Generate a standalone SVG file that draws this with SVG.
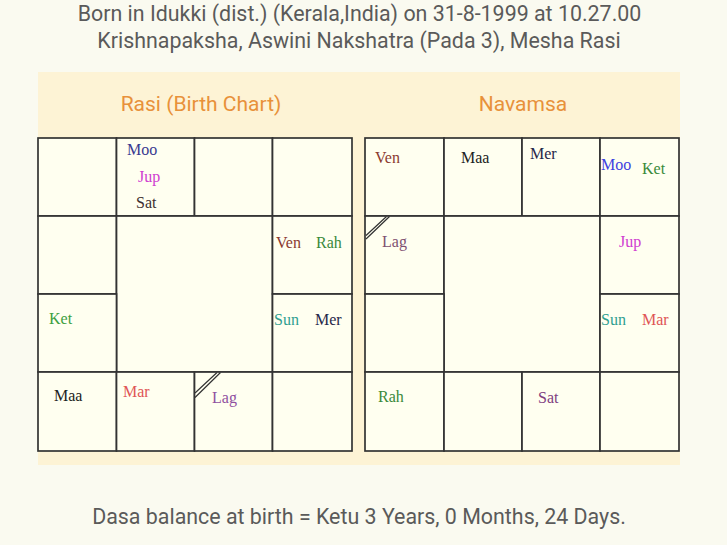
<svg xmlns="http://www.w3.org/2000/svg" width="727" height="545" viewBox="0 0 727 545">
<style>
.t{font-family:Roboto,"Liberation Sans",sans-serif;font-size:21.4px;fill:#5a5a5a;text-anchor:middle}
.h{font-family:Roboto,"Liberation Sans",sans-serif;font-size:21px;fill:#e8913a;text-anchor:middle}
.c{fill:#fffff0;stroke:#333;stroke-width:1.7}
.p{font-family:"Liberation Serif","DejaVu Serif",serif;font-size:16px}
.lg{stroke:#333;stroke-width:1.2;fill:none}
</style>
<rect width="727" height="545" fill="#fafaf0"/>
<text class="t" x="359.5" y="21">Born in Idukki (dist.) (Kerala,India) on 31-8-1999 at 10.27.00</text>
<text class="t" x="359" y="48">Krishnapaksha, Aswini Nakshatra (Pada 3), Mesha Rasi</text>
<rect id="panel" x="38" y="72" width="642" height="393" fill="#fdf3d5"/>
<text class="h" x="201" y="111">Rasi (Birth Chart)</text>
<text class="h" x="523" y="111">Navamsa</text>

<g id="rasi">
<rect class="c" x="38" y="138" width="78.5" height="78"/>
<rect class="c" x="116.5" y="138" width="78" height="78"/>
<rect class="c" x="194.5" y="138" width="78" height="78"/>
<rect class="c" x="272.5" y="138" width="79.5" height="78"/>
<rect class="c" x="38" y="216" width="78.5" height="78"/>
<rect class="c" x="116.5" y="216" width="156" height="156"/>
<rect class="c" x="272.5" y="216" width="79.5" height="78"/>
<rect class="c" x="38" y="294" width="78.5" height="78"/>
<rect class="c" x="272.5" y="294" width="79.5" height="78"/>
<rect class="c" x="38" y="372" width="78.5" height="79"/>
<rect class="c" x="116.5" y="372" width="78" height="79"/>
<rect class="c" x="194.5" y="372" width="78" height="79"/>
<rect class="c" x="272.5" y="372" width="79.5" height="79"/>
<path class="lg" d="M195 397.5 L220.5 372.5 M195 393 L217 372.5"/>
<g id="r-h2"><text class="p" x="127" y="155" fill="#3a3a90">Moo</text><text class="p" x="138" y="182" fill="#d040d0">Jup</text><text class="p" x="136" y="208" fill="#403030">Sat</text></g>
<g id="r-h4"><text class="p" x="276" y="248" fill="#8b3a30">Ven</text><text class="p" x="316" y="248" fill="#3a8a3a">Rah</text></g>
<g id="r-h12"><text class="p" x="49" y="324" fill="#40a040">Ket</text></g>
<g id="r-h5"><text class="p" x="274" y="325" fill="#30a090">Sun</text><text class="p" x="315" y="325" fill="#28284a">Mer</text></g>
<g id="r-h11"><text class="p" x="54" y="401" fill="#222">Maa</text></g>
<g id="r-h10"><text class="p" x="123" y="397" fill="#e05555">Mar</text></g>
<g id="r-h9"><text class="p" x="212" y="403" fill="#9050a0">Lag</text></g>
</g>

<g id="navamsa">
<rect class="c" x="365" y="138" width="79" height="78"/>
<rect class="c" x="444" y="138" width="78" height="78"/>
<rect class="c" x="522" y="138" width="78" height="78"/>
<rect class="c" x="600" y="138" width="79" height="78"/>
<rect class="c" x="365" y="216" width="79" height="78"/>
<rect class="c" x="444" y="216" width="156" height="156"/>
<rect class="c" x="600" y="216" width="79" height="78"/>
<rect class="c" x="365" y="294" width="79" height="78"/>
<rect class="c" x="600" y="294" width="79" height="78"/>
<rect class="c" x="365" y="372" width="79" height="79"/>
<rect class="c" x="444" y="372" width="78" height="79"/>
<rect class="c" x="522" y="372" width="78" height="79"/>
<rect class="c" x="600" y="372" width="79" height="79"/>
<path class="lg" d="M366 239 L389.5 216.5 M366 235.5 L386.5 216.5"/>
<g id="n-h1"><text class="p" x="375" y="163" fill="#8b3a30">Ven</text></g>
<g id="n-h2"><text class="p" x="461" y="163" fill="#222">Maa</text></g>
<g id="n-h3"><text class="p" x="530" y="159" fill="#28284a">Mer</text></g>
<g id="n-h4"><text class="p" x="601" y="170" fill="#4040e0">Moo</text><text class="p" x="642" y="174" fill="#3a8a3a">Ket</text></g>
<g id="n-h12"><text class="p" x="382" y="247" fill="#805070">Lag</text></g>
<g id="n-h5"><text class="p" x="619" y="247" fill="#d040d0">Jup</text></g>
<g id="n-h6"><text class="p" x="601" y="325" fill="#30a090">Sun</text><text class="p" x="642" y="325" fill="#e05555">Mar</text></g>
<g id="n-h10"><text class="p" x="378" y="402" fill="#3a8a3a">Rah</text></g>
<g id="n-h8"><text class="p" x="538" y="403" fill="#804080">Sat</text></g>
</g>

<text class="t" x="359" y="524">Dasa balance at birth = Ketu 3 Years, 0 Months, 24 Days.</text>
</svg>
